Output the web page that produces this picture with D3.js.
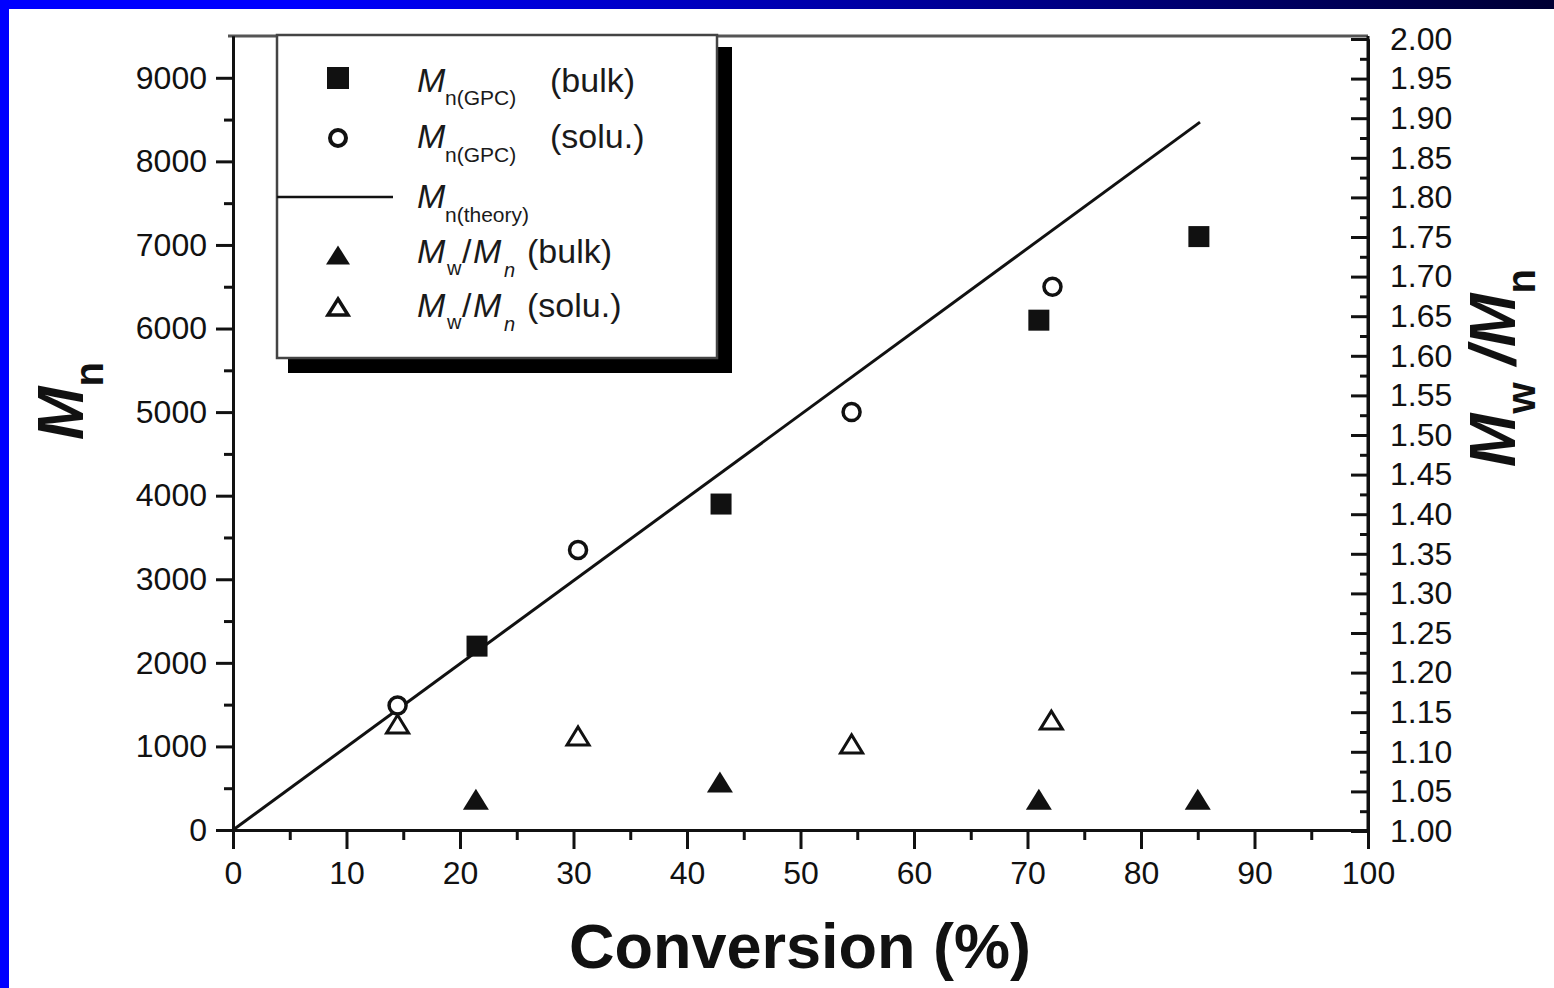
<!DOCTYPE html>
<html><head><meta charset="utf-8">
<script src="https://cdn.jsdelivr.net/npm/d3@7"></script>
<style>body{margin:0;background:#fff}svg{display:block}</style>
</head><body>
<script>
// ---- data ----
const conversionBulk = [21.5, 43.0, 71.0, 85.1];
const mnBulk = [2200, 3900, 6100, 7100];
const conversionSolu = [14.5, 30.4, 54.5, 72.2];
const mnSolu = [1490, 3350, 5000, 6500];
const pdiBulkConv = [21.4, 42.9, 71.0, 85.0];
const pdiBulk = [1.04, 1.062, 1.04, 1.04];
const pdiSoluConv = [14.5, 30.4, 54.5, 72.1];
const pdiSolu = [1.135, 1.12, 1.11, 1.14];
const theoryConv = [0, 85.2];
const theoryMn = [0, 8470];

const xTicks = [0,10,20,30,40,50,60,70,80,90,100];
const xMinorTicks = [5,15,25,35,45,55,65,75,85,95];
const leftTicks = [0,1000,2000,3000,4000,5000,6000,7000,8000,9000];
const leftMinorTicks = [500,1500,2500,3500,4500,5500,6500,7500,8500];
const rightTicks = [1.00,1.05,1.10,1.15,1.20,1.25,1.30,1.35,1.40,1.45,1.50,1.55,1.60,1.65,1.70,1.75,1.80,1.85,1.90,1.95,2.00];
const rightMinorTicks = [1.025,1.075,1.125,1.175,1.225,1.275,1.325,1.375,1.425,1.475,1.525,1.575,1.625,1.675,1.725,1.775,1.825,1.875,1.925,1.975];

const W = 1554, H = 988;
const FONT = "'Liberation Sans', Arial, Helvetica, sans-serif";
const INK = "#111";

const svg = d3.select("body").append("svg").attr("width", W).attr("height", H);
svg.append("rect").attr("width", W).attr("height", H).attr("fill", "#fff");

// frame
const defs = svg.append("defs");
const grad = defs.append("linearGradient").attr("id", "topgrad").attr("x1", "0").attr("x2", "1").attr("y1","0").attr("y2","0");
grad.append("stop").attr("offset", "0.19").attr("stop-color", "#0000ff");
grad.append("stop").attr("offset", "1").attr("stop-color", "#000033");
svg.append("rect").attr("width", W).attr("height", 9).attr("fill", "url(#topgrad)");
svg.append("rect").attr("width", 9).attr("height", H).attr("fill", "#0000ff");

const x = d3.scaleLinear().domain([0, 100]).range([233, 1368]);
const yL = d3.scaleLinear().domain([0, 9500]).range([830, 36]);
const yR = d3.scaleLinear().domain([1, 2]).range([831, 39]);

function styleAxis(sel) {
  sel.attr("font-family", FONT).attr("font-size", 32);
  sel.selectAll("path.domain").attr("stroke", INK).attr("stroke-width", 3);
  sel.selectAll(".tick line").attr("stroke", INK).attr("stroke-width", 3);
  sel.selectAll(".tick text").attr("fill", INK);
}

// top frame line
svg.append("line").attr("x1", 228).attr("x2", x(100)).attr("y1", yL(9500)).attr("y2", yL(9500))
  .attr("stroke", "#555").attr("stroke-width", 3);

// left axis
svg.append("g").attr("transform", `translate(${x(0)},0)`)
  .call(d3.axisLeft(yL).tickValues(leftMinorTicks).tickSize(9).tickSizeOuter(0).tickFormat(""))
  .call(styleAxis);
svg.append("g").attr("transform", `translate(${x(0)},0)`)
  .call(d3.axisLeft(yL).tickValues(leftTicks).tickSize(17).tickSizeOuter(0).tickPadding(9).tickFormat(d3.format("d")))
  .call(styleAxis);

// bottom axis
svg.append("g").attr("transform", `translate(0,${yL(0)})`)
  .call(d3.axisBottom(x).tickValues(xMinorTicks).tickSize(10).tickSizeOuter(0).tickFormat(""))
  .call(styleAxis);
svg.append("g").attr("transform", `translate(0,${yL(0)})`)
  .call(d3.axisBottom(x).tickValues(xTicks).tickSize(19).tickSizeOuter(0).tickPadding(12).tickFormat(d3.format("d")))
  .call(styleAxis);

// right axis (ticks inward)
const rightAxisG = svg.append("g").attr("transform", `translate(${x(100)},0)`);
rightAxisG.append("line").attr("x1", 0).attr("x2", 0).attr("y1", yL(9500)).attr("y2", yL(0)).attr("stroke", INK).attr("stroke-width", 3);
svg.append("g").attr("transform", `translate(${x(100)},0)`)
  .call(d3.axisRight(yR).tickValues(rightMinorTicks).tickSizeInner(-8).tickSizeOuter(0).tickFormat(""))
  .call(styleAxis);
svg.append("g").attr("transform", `translate(${x(100)},0)`)
  .call(d3.axisRight(yR).tickValues(rightTicks).tickSizeInner(-17).tickSizeOuter(0).tickPadding(22).tickFormat(d3.format(".2f")))
  .call(styleAxis);

// theory line
svg.append("path")
  .datum(theoryConv.map((c, i) => [c, theoryMn[i]]))
  .attr("d", d3.line().x(d => x(d[0])).y(d => yL(d[1])))
  .attr("fill", "none").attr("stroke", INK).attr("stroke-width", 3);

function triPath(w, h) { return `M0,${-h/2}L${w/2},${h/2}L${-w/2},${h/2}Z`; }

// bulk Mn squares
svg.append("g").selectAll("rect").data(conversionBulk).join("rect")
  .attr("x", (d) => x(d) - 10.5).attr("y", (d, i) => yL(mnBulk[i]) - 10.5)
  .attr("width", 21).attr("height", 21).attr("fill", INK);

// solution Mn circles
svg.append("g").selectAll("circle").data(conversionSolu).join("circle")
  .attr("cx", d => x(d)).attr("cy", (d, i) => yL(mnSolu[i])).attr("r", 8.5)
  .attr("fill", "#fff").attr("stroke", INK).attr("stroke-width", 3.5);

// PDI bulk filled triangles
svg.append("g").selectAll("path").data(pdiBulkConv).join("path")
  .attr("transform", (d, i) => `translate(${x(d)},${yR(pdiBulk[i])})`)
  .attr("d", triPath(26, 21)).attr("fill", INK);

// PDI solu open triangles
svg.append("g").selectAll("path").data(pdiSoluConv).join("path")
  .attr("transform", (d, i) => `translate(${x(d)},${yR(pdiSolu[i])})`)
  .attr("d", triPath(22, 18)).attr("fill", "#fff").attr("stroke", INK).attr("stroke-width", 3).attr("stroke-linejoin", "miter");

// legend
const lg = svg.append("g");
lg.append("rect").attr("x", 288).attr("y", 47).attr("width", 444).attr("height", 326).attr("fill", "#000");
lg.append("rect").attr("x", 277).attr("y", 35).attr("width", 440).attr("height", 323)
  .attr("fill", "#fff").attr("stroke", "#444").attr("stroke-width", 2.5);

const mx = 338;
lg.append("rect").attr("x", mx - 11).attr("y", 78 - 11).attr("width", 22).attr("height", 22).attr("fill", INK);
lg.append("circle").attr("cx", mx).attr("cy", 138).attr("r", 8).attr("fill", "#fff").attr("stroke", INK).attr("stroke-width", 4);
lg.append("line").attr("x1", 277).attr("x2", 393).attr("y1", 197).attr("y2", 197).attr("stroke", INK).attr("stroke-width", 2.5);
lg.append("path").attr("transform", `translate(${mx},255)`).attr("d", triPath(24, 19)).attr("fill", INK);
lg.append("path").attr("transform", `translate(${mx},307)`).attr("d", triPath(20, 16)).attr("fill", "#fff").attr("stroke", INK).attr("stroke-width", 3.5);

const legendNotes = ["(bulk)", "(solu.)"];
function legText(y) {
  return lg.append("text").attr("font-family", FONT).attr("fill", "#1a1a1a").attr("font-size", 34).attr("y", y);
}
// row 1
let t = legText(92);
t.append("tspan").attr("x", 417).attr("font-style", "italic").text("M");
t.append("tspan").attr("x", 445).attr("y", 105).attr("font-size", 21).text("n(GPC)");
t.append("tspan").attr("x", 550).attr("y", 92).text(legendNotes[0]);
// row 2
t = legText(148);
t.append("tspan").attr("x", 417).attr("font-style", "italic").text("M");
t.append("tspan").attr("x", 445).attr("y", 162).attr("font-size", 21).text("n(GPC)");
t.append("tspan").attr("x", 550).attr("y", 148).text(legendNotes[1]);
// row 3
t = legText(208);
t.append("tspan").attr("x", 417).attr("font-style", "italic").text("M");
t.append("tspan").attr("x", 445).attr("y", 222).attr("font-size", 21).text("n(theory)");
// rows 4-5
function pdiRow(y, note) {
  const tt = legText(y);
  tt.append("tspan").attr("x", 417).attr("font-style", "italic").text("M");
  tt.append("tspan").attr("x", 447).attr("y", y + 12).attr("font-size", 20).text("w");
  tt.append("tspan").attr("x", 462).attr("y", y).text("/");
  tt.append("tspan").attr("x", 473).attr("font-style", "italic").text("M");
  tt.append("tspan").attr("x", 504).attr("y", y + 14).attr("font-size", 20).attr("font-style", "italic").text("n");
  tt.append("tspan").attr("x", 527).attr("y", y).text(note);
}
pdiRow(263, legendNotes[0]);
pdiRow(317, legendNotes[1]);

// axis titles
svg.append("text").attr("x", 800).attr("y", 968).attr("text-anchor", "middle")
  .attr("font-family", FONT).attr("font-weight", "bold").attr("font-size", 63).attr("fill", INK)
  .text("Conversion (%)");

const lt = svg.append("text").attr("transform", "translate(83,401) rotate(-90)").attr("text-anchor", "middle")
  .attr("font-family", FONT).attr("font-weight", "bold").attr("fill", INK);
lt.append("tspan").attr("font-size", 64).attr("font-style", "italic").text("M");
lt.append("tspan").attr("font-size", 40).attr("dy", 20).text("n");

const rt = svg.append("text").attr("transform", "translate(1515,368) rotate(-90)").attr("text-anchor", "middle")
  .attr("font-family", FONT).attr("font-weight", "bold").attr("fill", INK);
rt.append("tspan").attr("font-size", 64).attr("font-style", "italic").text("M");
rt.append("tspan").attr("font-size", 40).attr("dy", 20).text("w");
rt.append("tspan").attr("font-size", 64).attr("dy", -20).attr("font-style", "italic").text(" /M");
rt.append("tspan").attr("font-size", 40).attr("dy", 20).text("n");
</script>
</body></html>
